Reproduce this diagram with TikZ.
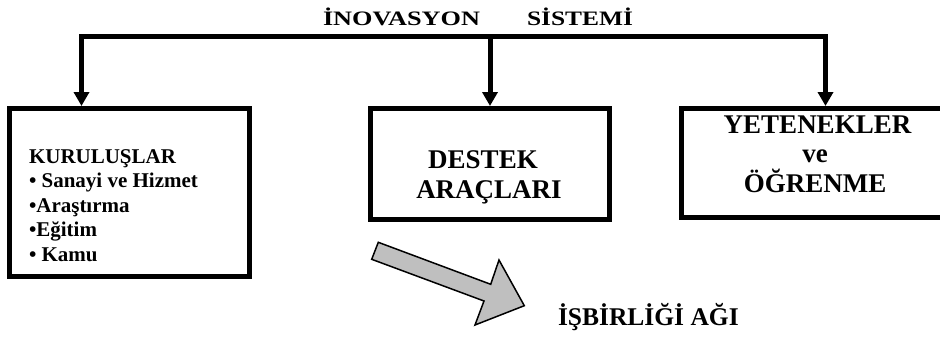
\documentclass[tikz,border=0pt]{standalone}
\usepackage{fontspec}
\setmainfont{Liberation Serif}
\usetikzlibrary{arrows.meta}
\tikzset{
  box/.style={draw, line width=5pt, inner sep=0pt, outer sep=2.5pt},
  conn/.style={line width=5pt, line join=miter},
  tip/.style={-{Triangle[width=15pt,length=14pt]}},
  txt/.style={inner sep=0pt, outer sep=0pt},
  bigtxt/.style={txt, anchor=base, font=\fontsize{27}{30}\selectfont\bfseries},
  listtxt/.style={txt, anchor=base west, font=\fontsize{21}{24}\selectfont\bfseries},
  titletxt/.style={txt, anchor=base west, font=\fontsize{20.5}{22}\selectfont\bfseries},
  grayarrow/.style={draw=black, line width=1.5pt, fill=black!25, line join=miter}
}
\begin{document}
\begin{tikzpicture}[x=1pt, y=-1pt]
\useasboundingbox (0,0) rectangle (940,340);
\clip (0,0) rectangle (940,340);

% title (horizontally stretched, as printed)
\node[titletxt] (t1) at (323,25) {\scalebox{1.28}[1]{İNOVASYON}};
\node[titletxt] (t2) at (527,25) {\scalebox{1.24}[1]{SİSTEMİ}};

% boxes
\node[box, minimum width=240pt, minimum height=168pt] (b1) at (129.5,192.5) {};
\node[box, minimum width=239pt, minimum height=110.5pt] (b2) at (490,163.75) {};
\node[box, minimum width=272pt, minimum height=109pt] (b3) at (817.5,163) {};

% connector skeleton
\coordinate (tl) at (81.5,36.5);
\coordinate (tm) at (490,36.5);
\coordinate (tr) at (825.5,36.5);
\draw[conn, {Triangle[width=15pt,length=14pt]}-{Triangle[width=15pt,length=14pt]}]
  (tl |- b1.north) -- (tl) -- (tr) -- (tr |- b3.north);
\draw[conn, tip] (tm) -- (tm |- b2.north);

% box 1 text
\node[listtxt] (k0) at (29,163) {KURULUŞLAR};
\node[listtxt] (k1) at (29,187.5) {• Sanayi ve Hizmet};
\node[listtxt] (k2) at (29,212) {•Araştırma};
\node[listtxt] (k3) at (29,236.5) {•Eğitim};
\node[listtxt] (k4) at (29,261) {• Kamu};

% box 2 text
\node[bigtxt] (d1) at (483,168) {DESTEK};
\node[bigtxt] (d2) at (489,198) {ARAÇLARI};

% box 3 text
\node[bigtxt] (y1) at (817.5,133.5) {YETENEKLER};
\node[bigtxt] (y2) at (815,162) {ve};
\node[bigtxt] (y3) at (815,192) {ÖĞRENME};

% gray block arrow
\draw[grayarrow] (378.3,242.3) -- (490.7,284.3) -- (499,260) -- (524.3,305.7)
  -- (475,325) -- (484,301) -- (371.7,259.3) -- cycle;

% network label
\node[txt, anchor=base west, font=\fontsize{25.5}{28}\selectfont\bfseries] (ag) at (558,325.5) {İŞBİRLİĞİ AĞI};
\end{tikzpicture}
\end{document}
